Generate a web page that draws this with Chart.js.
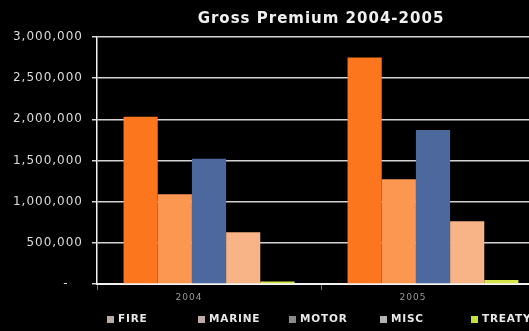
<!DOCTYPE html>
<html>
<head>
<meta charset="utf-8">
<script src="https://cdn.jsdelivr.net/npm/chart.js@4"></script>
<style>
    html, body { margin: 0; padding: 0; background: #000; overflow: hidden; }
    #premiumChart { display: block; }
</style>
</head>
<body>
<canvas id="premiumChart" width="545" height="331"></canvas>
<script>
const years = ["2004", "2005"];

const fire = [2030000, 2750000];
const marine = [1090000, 1272000];
const motor = [1522000, 1870000];
const misc = [628000, 763000];
const treaty = [30000, 50000];

const seriesNames = ["FIRE", "MARINE", "MOTOR", "MISC", "TREATY"];
const barColours = ["#fb761c", "#fb9750", "#4d689c", "#f8b486", "#d6e64a"];
const keyColours = ["#b8aaa4", "#c0aaa8", "#8a8a8a", "#b4b4b8", "#c8e03c"];

// wider letter spacing for the title and axis text, off again before the bars
const spacedText = {
    id: "spacedText",
    beforeDraw(chart) {
        chart.ctx.letterSpacing = "1px";
    },
    beforeDatasetsDraw(chart) {
        chart.ctx.letterSpacing = "0px";
    }
};

// legend drawn with fixed spacing under the axis
const spacedLegend = {
    id: "spacedLegend",
    afterDraw(chart) {
        const ctx = chart.ctx;
        ctx.save();
        ctx.letterSpacing = "0.8px";
        ctx.font = "bold 10.5px 'DejaVu Sans'";
        ctx.textBaseline = "middle";
        ctx.textAlign = "left";
        chart.data.datasets.forEach((ds, i) => {
            const x = 107 + i * 91;
            const y = 319;
            ctx.fillStyle = keyColours[i];
            ctx.fillRect(x, y - 3, 7, 7);
            ctx.fillStyle = "#e8e8e8";
            ctx.fillText(ds.label, x + 11, y + 0.5);
        });
        ctx.restore();
    }
};

const valueSets = [fire, marine, motor, misc, treaty];

const ctx = document.getElementById("premiumChart").getContext("2d");
const chart = new Chart(ctx, {
    type: "bar",
    data: {
        labels: years,
        datasets: seriesNames.map((name, i) => ({
            label: name,
            data: valueSets[i],
            backgroundColor: barColours[i],
            borderWidth: 0,
            categoryPercentage: 0.763,
            barPercentage: 1
        }))
    },
    plugins: [spacedText, spacedLegend],
    options: {
        responsive: false,
        animation: false,
        layout: {
            padding: { left: 0, right: 0, top: 0, bottom: 26 }
        },
        plugins: {
            legend: { display: false },
            tooltip: { enabled: false },
            title: {
                display: true,
                text: "Gross Premium 2004-2005",
                color: "#f0f0f0",
                fullSize: false,
                font: { family: "'DejaVu Sans'", size: 15, weight: "bold", lineHeight: 1.2 },
                padding: { top: 10, bottom: 9 }
            }
        },
        scales: {
            x: {
                grid: {
                    display: true,
                    drawOnChartArea: false,
                    color: "#777",
                    tickLength: 6,
                    offset: true
                },
                border: { display: true, color: "#f2f2f2", width: 2 },
                ticks: {
                    color: "#9a9a9a",
                    font: { family: "'DejaVu Sans'", size: 9 },
                    padding: 2,
                    labelOffset: -20
                },
                afterFit(scale) {
                    scale.height = 21;
                }
            },
            y: {
                min: 0,
                max: 3000000,
                ticks: {
                    stepSize: 500000,
                    color: "#dcdcdc",
                    padding: 9,
                    font: { family: "'DejaVu Sans'", size: 12 },
                    callback: value => value === 0 ? "-   " : value.toLocaleString("en-US")
                },
                grid: {
                    color: "#d4d4d4",
                    lineWidth: 1.5,
                    tickLength: 5
                },
                border: { display: true, color: "#f2f2f2", width: 1.5 },
                afterFit(scale) {
                    scale.width = 97;
                }
            }
        }
    }
});
</script>
</body>
</html>
